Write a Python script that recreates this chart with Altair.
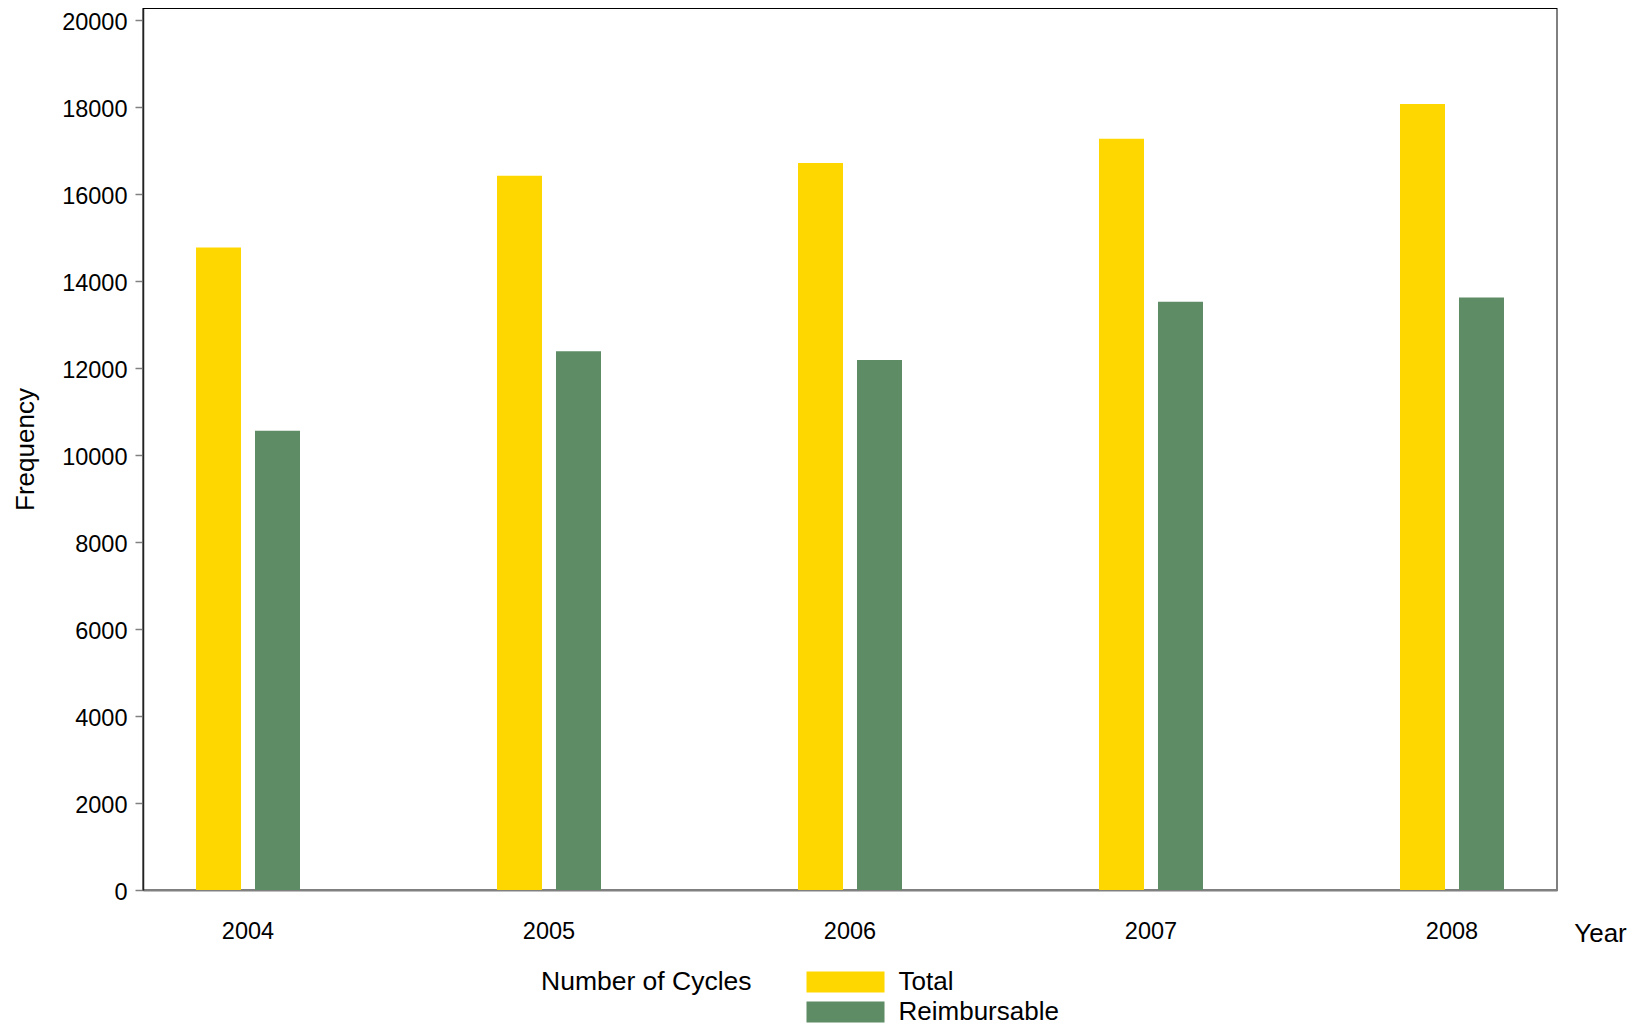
import altair as alt
import pandas as pd

years = ["2004", "2005", "2006", "2007", "2008"]
series = ["Total", "Reimbursable"]
total = [14780, 16430, 16720, 17280, 18080]
reimbursable = [10560, 12390, 12190, 13530, 13630]
y_ticks = list(range(0, 20001, 2000))
colors = ["#FFD700", "#5E8C65"]

rows = []
for i, yr in enumerate(years):
    rows.append({"Year": yr, "Series": "Total", "Value": total[i]})
    rows.append({"Year": yr, "Series": "Reimbursable", "Value": reimbursable[i]})
df = pd.DataFrame(rows)

W, H = 1414, 882
FONT = "Liberation Sans"

bars = alt.Chart(df).mark_bar().encode(
    x=alt.X("Year:N", sort=years,
            scale=alt.Scale(paddingInner=0.6545, paddingOuter=0.1761),
            axis=alt.Axis(title="Year", labelAngle=0, labelFontSize=23.5, labelColor="black",
                          ticks=False, tickSize=0, labelPadding=29,
                          domainColor="#808080", domainWidth=2,
                          titleFontSize=26, titleFontWeight="normal", titleColor="black",
                          titleX=1457, titleY=43, titleAlign="center", titleBaseline="middle")),
    xOffset=alt.XOffset("Series:N", sort=series,
                        scale=alt.Scale(paddingInner=0.237, paddingOuter=0)),
    y=alt.Y("Value:Q", scale=alt.Scale(domain=[0, 20286], nice=False, zero=True),
            axis=alt.Axis(title="Frequency", values=y_ticks, grid=False, format="d",
                          labelFontSize=23.5, labelColor="black", labelPadding=8,
                          labelOffset=2,
                          tickSize=8, tickColor="#808080", tickWidth=1.5,
                          domainColor="#222222", domainWidth=1.5,
                          titleFontSize=26, titleFontWeight="normal", titleColor="black",
                          titleX=-110, titleY=441, titleAlign="center",
                          titleBaseline="alphabetic", titleAngle=270)),
    color=alt.Color("Series:N", sort=series,
                    scale=alt.Scale(domain=series, range=colors),
                    legend=alt.Legend(title="Number of Cycles", orient="none",
                                      legendX=398, legendY=961, direction="vertical",
                                      titleOrient="left", titlePadding=52,
                                      titleAnchor="start", titleLimit=500,
                                      titleFontSize=26.5, titleFontWeight="normal",
                                      titleColor="black", titleBaseline="top",
                                      labelFontSize=26, labelColor="black", labelLimit=500,
                                      symbolType="M0,-1H7.43V1H0Z", symbolSize=441,
                                      symbolOffset=-10.5, labelOffset=79,
                                      symbolStrokeWidth=0, symbolOpacity=1,
                                      rowPadding=4, padding=0)),
)

frame_top = alt.Chart(df).mark_rule(color="black", strokeWidth=2).encode(
    x=alt.value(0), x2=alt.value(W), y=alt.value(0)
)

chart = alt.layer(bars, frame_top).properties(
    width=W, height=H,
    autosize=alt.AutoSizeParams(type="none"),
    padding={"left": 135, "top": 0, "right": 77, "bottom": 134},
).configure(font=FONT).configure_view(stroke="#808080", strokeWidth=2)

chart.save("out.html", embed_options={"renderer": "svg", "actions": False})
